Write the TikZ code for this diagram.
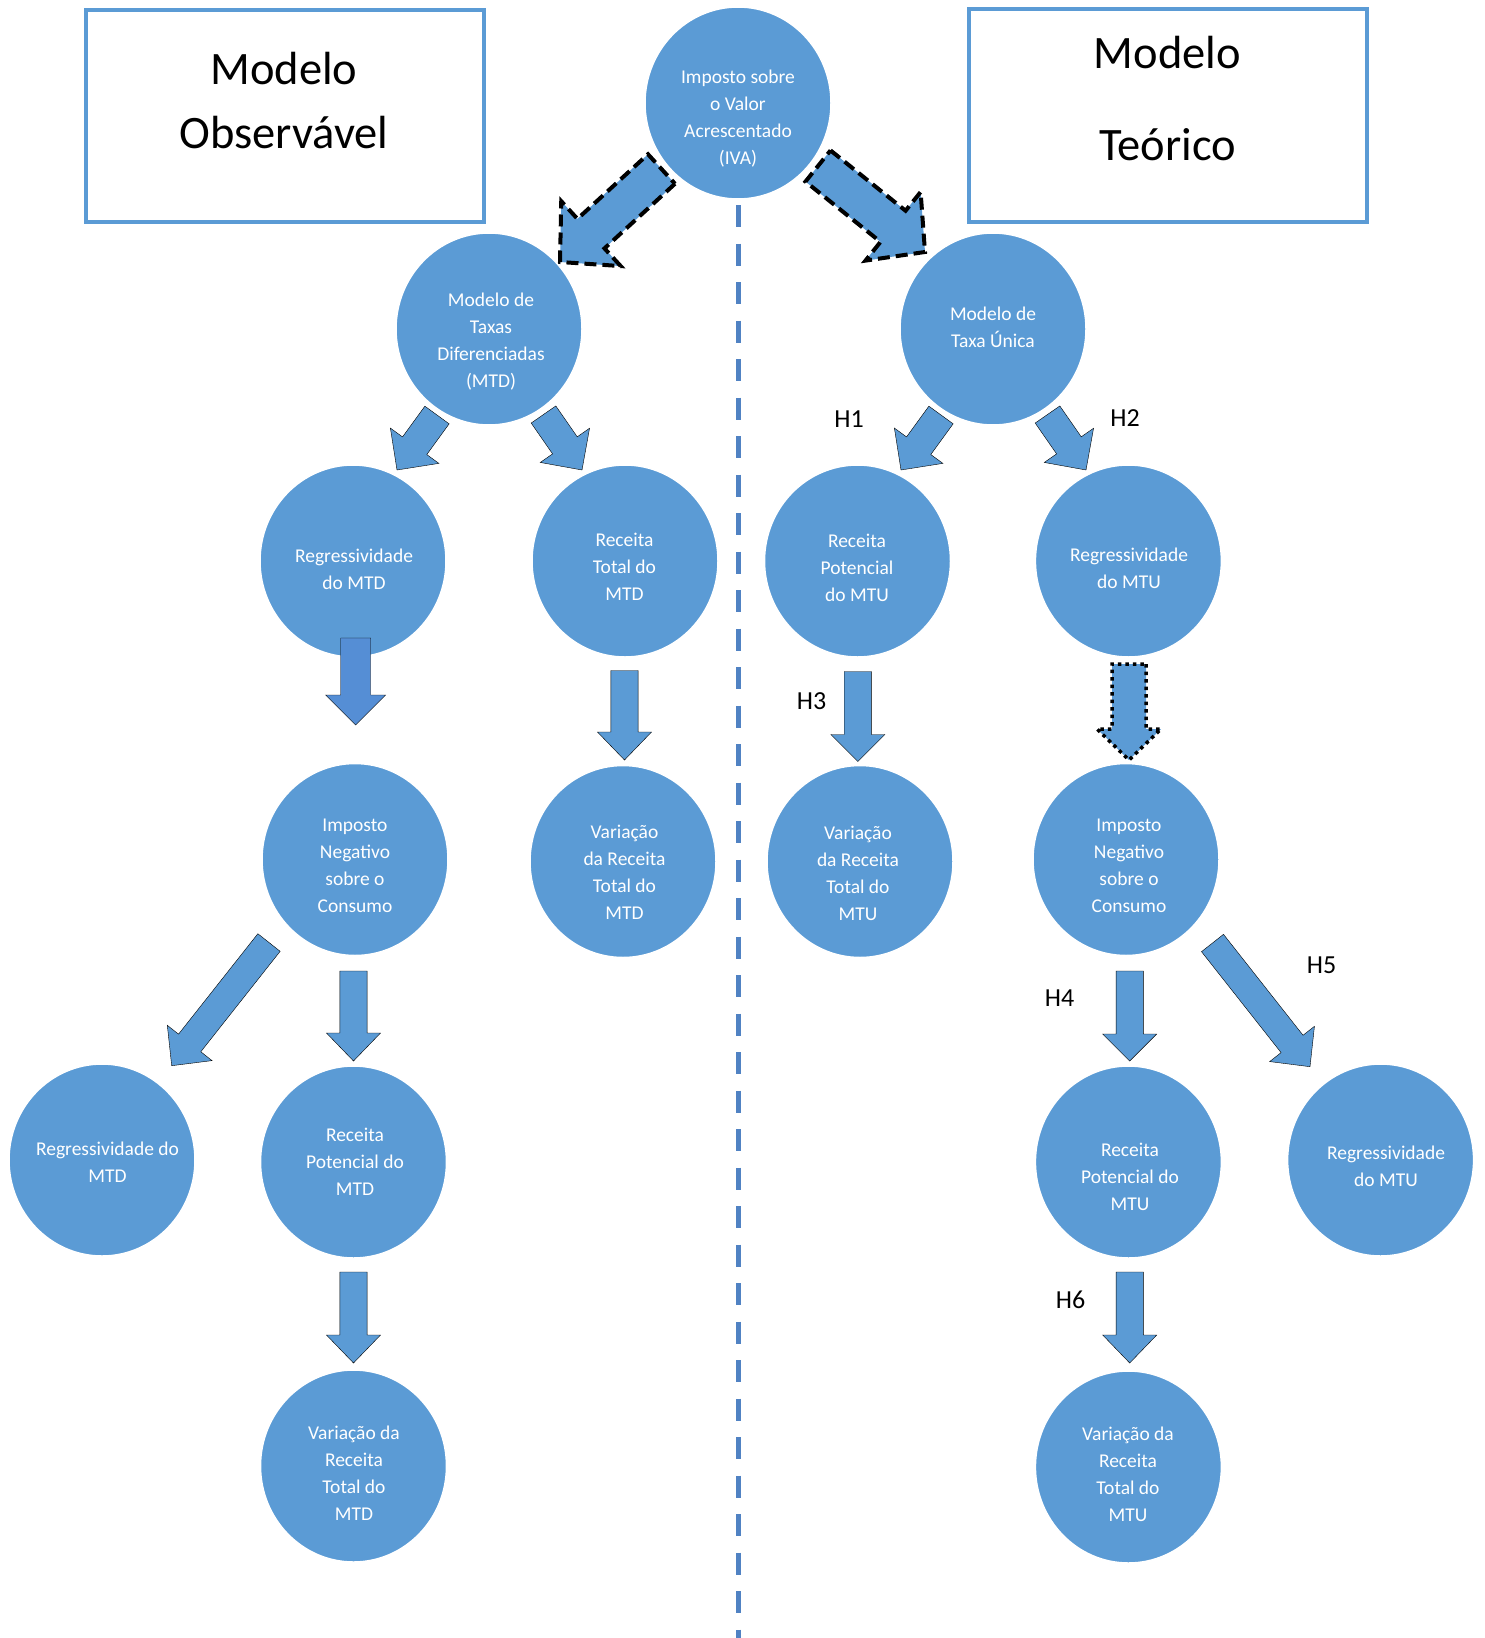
\documentclass[tikz,border=0pt]{standalone}
\usepackage{fontspec}
\setmainfont{Carlito}
\usetikzlibrary{calc,shapes.geometric}
\definecolor{cblue}{RGB}{91,155,213}
\definecolor{cbluedark}{RGB}{85,142,213}
\definecolor{lblue}{RGB}{80,130,195}
% block arrow: #1 style, #2 tail coord, #3 tip coord, #4 half shaft, #5 half head, #6 head length
\newcommand\blkarr[6]{%
  \coordinate (hb) at ($(#3)!#6!(#2)$);
  \draw[#1] ($(#2)!#4!90:(#3)$) -- ($(hb)!#4!90:(#3)$) -- ($(hb)!#5!90:(#3)$) -- (#3)
    -- ($(hb)!#5!-90:(#3)$) -- ($(hb)!#4!-90:(#3)$) -- ($(#2)!#4!-90:(#3)$) -- cycle;
}
\begin{document}
\begin{tikzpicture}[x=1pt,y=-1pt,
  bub/.style={ellipse, fill=cblue, draw=white, line width=1.5pt, minimum width=186pt, minimum height=192pt, inner sep=0pt},
  btxt/.style={text=white, align=center, font=\fontsize{19.5}{27}\selectfont, inner sep=0pt, yshift=-2pt},
  ttl/.style={align=center, font=\fontsize{46.5}{64}\selectfont, inner sep=0pt},
  hlab/.style={font=\fontsize{26}{30}\selectfont, inner sep=0pt},
  boxst/.style={draw=cblue, line width=4pt, inner sep=0pt},
  divider/.style={draw=lblue, line width=5pt, dash pattern=on 22pt off 16.5pt},
  plainarr/.style={fill=cblue},
  darkarr/.style={fill=cbluedark},
  dasharr/.style={fill=cblue, draw=black, line width=4pt, line join=miter, dash pattern=on 12pt off 6pt},
  dotarr/.style={fill=cblue, draw=black, line width=3.5pt, line join=miter, dash pattern=on 3.5pt off 4pt},
]
\useasboundingbox (0,0) rectangle (1484,1638);

% divider
\coordinate (dtop) at (738,205);
\coordinate (dbot) at (738,1638);
\draw[divider] (dtop) -- (dbot);

% title boxes
\node[boxst, minimum width=398pt, minimum height=212pt] (boxL) at (285,116) {};
\node[ttl] (titleL) at (284,101) {Modelo\\Observável};
\node[boxst, minimum width=398pt, minimum height=213pt] (boxR) at (1168,115) {};
\node[ttl, font=\fontsize{46.5}{92}\selectfont] (titleR) at (1167.5,99) {Modelo\\Teórico};

% arrow coordinates
\coordinate (t1) at (661.5,169);  \coordinate (p1) at (560,262);
\coordinate (t2) at (818,166);    \coordinate (p2) at (925,252);
\coordinate (t3) at (437,415);    \coordinate (p3) at (397,470);
\coordinate (t4) at (543.5,414.5);\coordinate (p4) at (582,470);
\coordinate (t5) at (941,415);    \coordinate (p5) at (901,470);
\coordinate (t6) at (1047.5,414.5);\coordinate (p6) at (1086,470);
\coordinate (t7) at (355.7,638);  \coordinate (p7) at (355.7,725);
\coordinate (t8) at (624.5,670.5);\coordinate (p8) at (624.5,760);
\coordinate (t9) at (857.8,671.5);\coordinate (p9) at (857.8,761.5);
\coordinate (t10) at (1129,664);  \coordinate (p10) at (1129,760);
\coordinate (t11) at (353.5,971); \coordinate (p11) at (353.5,1061);
\coordinate (t12) at (269,942.5); \coordinate (p12) at (171.7,1065.7);
\coordinate (t13) at (353.5,1272);\coordinate (p13) at (353.5,1363);
\coordinate (t14) at (1129.7,971);\coordinate (p14) at (1129.7,1061);
\coordinate (t15) at (1212.5,943);\coordinate (p15) at (1310,1066.7);
\coordinate (t16) at (1129.7,1272);\coordinate (p16) at (1129.7,1363);

% arrows (under bubbles)
\blkarr{dasharr}{t1}{p1}{20pt}{44pt}{42pt}
\blkarr{dasharr}{t2}{p2}{20pt}{44pt}{41pt}
\blkarr{plainarr}{t3}{p3}{15pt}{30pt}{30pt}
\blkarr{plainarr}{t4}{p4}{15pt}{30pt}{30pt}
\blkarr{plainarr}{t5}{p5}{15pt}{30pt}{30pt}
\blkarr{plainarr}{t6}{p6}{15pt}{30pt}{30pt}
\blkarr{plainarr}{t8}{p8}{13.6pt}{27pt}{28pt}
\blkarr{plainarr}{t9}{p9}{13.6pt}{27pt}{27pt}
\blkarr{dotarr}{t10}{p10}{17pt}{32pt}{31pt}
\blkarr{plainarr}{t11}{p11}{13.6pt}{27pt}{28pt}
\blkarr{plainarr}{t12}{p12}{14.2pt}{28.5pt}{29pt}
\blkarr{plainarr}{t13}{p13}{13.6pt}{27pt}{28pt}
\blkarr{plainarr}{t14}{p14}{13.6pt}{27pt}{27pt}
\blkarr{plainarr}{t15}{p15}{14pt}{28.5pt}{29pt}
\blkarr{plainarr}{t16}{p16}{13.6pt}{27pt}{28pt}

% bubbles
\node[bub] (c0) at (738,103) {};
\node[bub] (c1) at (489,329) {};
\node[bub] (c2) at (993,329) {};
\node[bub] (c3) at (353,561) {};
\node[bub] (c4) at (625,561) {};
\node[bub] (c5) at (857.5,561) {};
\node[bub] (c6) at (1128.4,561) {};
\node[bub] (c7) at (355,859.5) {};
\node[bub] (c8) at (623,861.5) {};
\node[bub] (c9) at (860,861.5) {};
\node[bub] (c10) at (1126,859.5) {};
\node[bub] (c11) at (102,1160) {};
\node[bub] (c12) at (353.5,1162) {};
\node[bub] (c13) at (1128.4,1162) {};
\node[bub] (c14) at (1380.6,1160) {};
\node[bub] (c15) at (353.5,1466) {};
\node[bub] (c16) at (1128.4,1467) {};

% arrow drawn over its bubble
\blkarr{darkarr}{t7}{p7}{15pt}{30pt}{30pt}

% bubble texts
\node[btxt] (x0) at (738,117) {Imposto sobre\\o Valor\\Acrescentado\\(IVA)};
\node[btxt] (x1) at (491,340) {Modelo de\\Taxas\\Diferenciadas\\(MTD)};
\node[btxt] (x2) at (993,325) {Modelo de\\Taxa Única};
\node[btxt] (x3) at (354,567) {Regressividade\\do MTD};
\node[btxt] (x4) at (624.5,565) {Receita\\Total do\\MTD};
\node[btxt] (x5) at (857,565.5) {Receita\\Potencial\\do MTU};
\node[btxt] (x6) at (1129,566) {Regressividade\\do MTU};
\node[btxt] (x7) at (355,864) {Imposto\\Negativo\\sobre o\\Consumo};
\node[btxt] (x8) at (624.5,870) {Variação\\da Receita\\Total do\\MTD};
\node[btxt] (x9) at (858,871) {Variação\\da Receita\\Total do\\MTU};
\node[btxt] (x10) at (1129,864) {Imposto\\Negativo\\sobre o\\Consumo};
\node[btxt] (x11) at (107.5,1160) {Regressividade do\\MTD};
\node[btxt] (x12) at (355,1160) {Receita\\Potencial do\\MTD};
\node[btxt] (x13) at (1130,1175) {Receita\\Potencial do\\MTU};
\node[btxt] (x14) at (1386,1164) {Regressividade\\do MTU};
\node[btxt] (x15) at (354,1471) {Variação da\\Receita\\Total do\\MTD};
\node[btxt] (x16) at (1128,1472) {Variação da\\Receita\\Total do\\MTU};

% hypothesis labels
\node[hlab] (h1) at (849,419) {H1};
\node[hlab] (h2) at (1125,418) {H2};
\node[hlab] (h3) at (811.5,701.5) {H3};
\node[hlab] (h4) at (1059.5,998) {H4};
\node[hlab] (h5) at (1321.5,965) {H5};
\node[hlab] (h6) at (1070.5,1300) {H6};
\end{tikzpicture}
\end{document}
